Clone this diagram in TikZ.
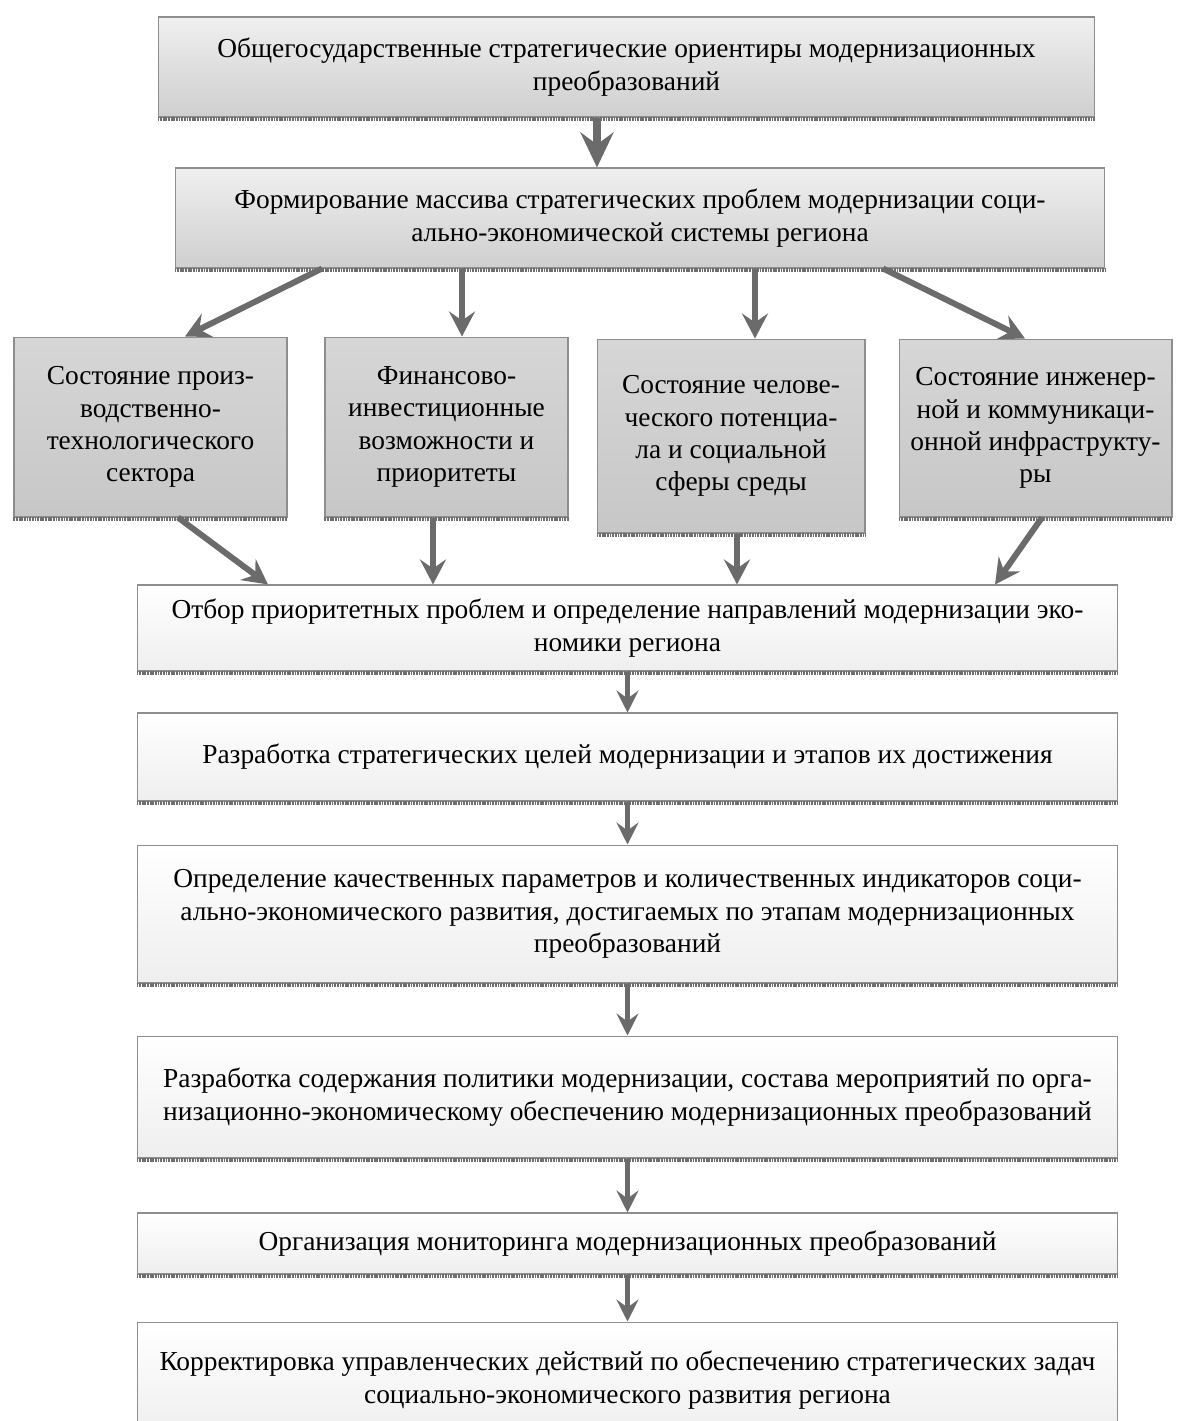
\documentclass[tikz,border=0pt]{standalone}
\usepackage{fontspec}
\setmainfont{Liberation Serif}
\usetikzlibrary{arrows.meta}
\definecolor{arrowgray}{HTML}{6B6B6B}
\definecolor{framegray}{HTML}{8E8E8E}
\definecolor{shadegray}{HTML}{6E6E6E}
\newcommand{\flowTip}{{Stealth[length=5mm, width=5.2mm, inset=1.8mm]}}
\newcommand{\bigTip}{{Stealth[length=7mm, width=6.6mm, inset=2.4mm]}}
\newcommand{\smallTip}{{Stealth[length=4.4mm, width=4.4mm, inset=1.6mm]}}

\begin{document}
\begin{tikzpicture}[x=0.02cm, y=-0.02cm, font=\fontsize{15.6}{18.4}\selectfont,
	box/.style={draw=framegray, line width=0.6pt, align=center, inner sep=0pt},
	darkbox/.style={box, top color=gray!12, bottom color=gray!38},
	sidebox/.style={box, top color=gray!32, middle color=gray!10, bottom color=gray!44},
	lightbox/.style={box, top color=white, bottom color=gray!13, minimum width=19.62cm},
	shadeline/.style={draw=shadegray, line width=1.8pt, dash pattern=on 1pt off 0.5pt},
	flow/.style={draw=arrowgray, line width=1.2mm, -\flowTip},
	bigflow/.style={draw=arrowgray, line width=1.5mm, -\bigTip},
	smallflow/.style={draw=arrowgray, line width=1mm, -\smallTip}]
	\useasboundingbox (0,0) rectangle (1184,1421);
	
	% upper part
	\node[darkbox, minimum width=18.74cm, minimum height=2cm] (orient) at (626.5,67)
		{Общегосударственные стратегические ориентиры модернизационных\\преобразований};
	\node[darkbox, minimum width=18.6cm, minimum height=2cm] (massiv) at (640,218)
		{Формирование массива стратегических проблем модернизации соци-\\ально-экономической системы региона};
	
	\node[sidebox, minimum width=5.46cm, minimum height=3.6cm] (proizv) at (150.5,427)
		{Состояние произ-\\водственно-\\технологического\\сектора};
	\node[sidebox, minimum width=4.86cm, minimum height=3.6cm] (finans) at (446.5,427)
		{Финансово-\\инвестиционные\\возможности и\\приоритеты};
	\node[sidebox, minimum width=5.36cm, minimum height=3.88cm] (chelov) at (731,436)
		{Состояние челове-\\ческого потенциа-\\ла и социальной\\сферы среды};
	\node[sidebox, minimum width=5.46cm, minimum height=3.56cm] (infra) at (1035.5,428)
		{Состояние инженер-\\ной и коммуникаци-\\онной инфраструкту-\\ры};
	
	% lower chain
	\node[lightbox, minimum height=1.72cm] (otbor) at (627.5,628)
		{Отбор приоритетных проблем и определение направлений модернизации эко-\\номики региона};
	\node[lightbox, minimum height=1.76cm] (celi) at (627.5,757)
		{Разработка стратегических целей модернизации и этапов их достижения};
	\node[lightbox, minimum height=2.76cm] (param) at (627.5,914)
		{Определение качественных параметров и количественных индикаторов соци-\\ально-экономического развития, достигаемых по этапам модернизационных\\преобразований};
	\node[lightbox, minimum height=2.44cm] (politika) at (627.5,1097)
		{Разработка содержания политики модернизации, состава мероприятий по орга-\\низационно-экономическому обеспечению модернизационных преобразований};
	\node[lightbox, minimum height=1.22cm] (monitor) at (627.5,1243.5)
		{Организация мониторинга модернизационных преобразований};
	\node[lightbox, minimum height=2.32cm] (korrekt) at (627.5,1380)
		{Корректировка управленческих действий по обеспечению стратегических задач\\социально-экономического развития региона};
	
	\foreach \n in {orient,massiv,proizv,finans,chelov,infra,otbor,celi,param,politika,monitor}
		\draw[shadeline] ([yshift=-0.8pt]\n.south west) -- ([yshift=-0.8pt]\n.south east);
	
	% arrows
	\draw[bigflow] (orient.south -| 597,0) -- (massiv.north -| 597,0);
	\draw[flow] (massiv.south -| 322,0) -- (proizv.north -| 185,0);
	\draw[flow] (massiv.south -| 462,0) -- (finans.north -| 462,0);
	\draw[flow] (massiv.south -| 755,0) -- (chelov.north -| 755,0);
	\draw[flow] (massiv.south -| 883,0) -- (infra.north -| 1025,0);
	\draw[flow] (proizv.south -| 178,0) -- (otbor.north -| 268,0);
	\draw[flow] (finans.south -| 433,0) -- (otbor.north -| 433,0);
	\draw[flow] (chelov.south -| 737,0) -- (otbor.north -| 737,0);
	\draw[flow] (infra.south -| 1042,0) -- (otbor.north -| 995,0);
	\foreach \a/\b in {otbor/celi, celi/param, param/politika, politika/monitor, monitor/korrekt}
		\draw[smallflow] (\a.south) -- (\b.north);
\end{tikzpicture}
\end{document}
